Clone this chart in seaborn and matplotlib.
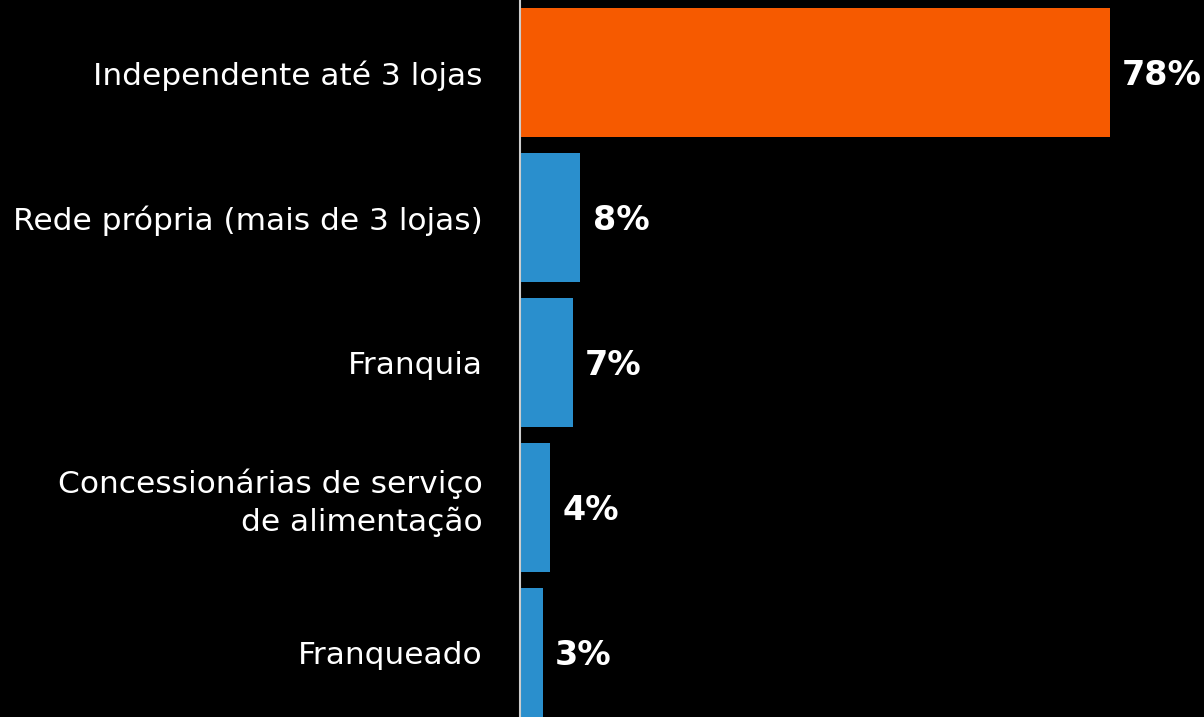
import matplotlib
matplotlib.use("Agg")
import matplotlib.pyplot as plt
import matplotlib.transforms as mtransforms
import seaborn as sns
import pandas as pd

categories = [
    "Independente até 3 lojas",
    "Rede própria (mais de 3 lojas)",
    "Franquia",
    "Concessionárias de serviço\nde alimentação",
    "Franqueado",
]
values = [78, 8, 7, 4, 3]
value_labels = ["78%", "8%", "7%", "4%", "3%"]
bar_colors = ["#F65A00", "#2A8FCD", "#2A8FCD", "#2A8FCD", "#2A8FCD"]

sns.set_theme(style="white")
plt.rcParams["font.family"] = ["DejaVu Sans"]

df = pd.DataFrame({"categoria": categories, "valor": values})

fig = plt.figure(figsize=(12.04, 7.17), dpi=100, facecolor="black")
ax = fig.add_axes([520 / 1204, 0, 1 - 520 / 1204, 1])
ax.set_facecolor("black")

sns.barplot(
    data=df, x="valor", y="categoria", hue="categoria",
    palette=bar_colors, orient="h", width=0.89, ax=ax,
    legend=False, saturation=1, linewidth=0,
)

ax.set_xlim(0, 90.5)
ax.set_ylim(4.445, -0.5)
ax.set_xlabel("")
ax.set_ylabel("")
ax.set_xticks([])
for s in ["top", "right", "bottom"]:
    ax.spines[s].set_visible(False)
ax.spines["left"].set_color("#cccccc")
ax.spines["left"].set_linewidth(1.5)

ax.tick_params(axis="y", length=0, pad=27, labelsize=22.5, labelcolor="white")
for t in ax.get_yticklabels():
    t.set_fontweight("normal")
    t.set_horizontalalignment("right")
    t.set_multialignment("right")
    t.set_linespacing(1.35)
    if "\n" in t.get_text():
        t.set_transform(t.get_transform() +
                        mtransforms.ScaledTranslation(0, 0.12, fig.dpi_scale_trans))

for i, (v, lab) in enumerate(zip(values, value_labels)):
    ax.text(v + 1.6, i + 0.02, lab, color="white", fontsize=24, fontweight="bold",
            va="center", ha="left")

fig.savefig("out.png", dpi=100, facecolor="black")
